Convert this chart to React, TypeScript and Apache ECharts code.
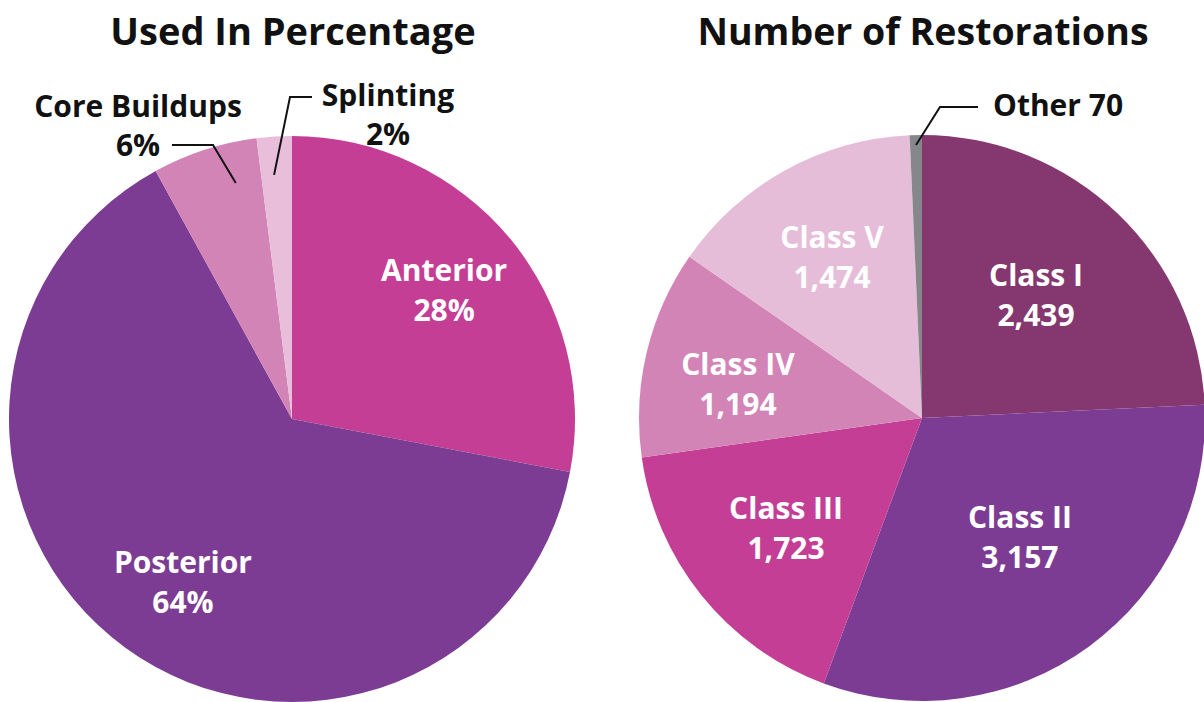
import React, { useEffect, useRef } from "react";
import * as echarts from "echarts";

const LEFT_TITLE = "Used In Percentage";
const RIGHT_TITLE = "Number of Restorations";
const LEFT_NAMES = ["Anterior", "Posterior", "Core Buildups", "Splinting"];
const LEFT_VALUES = [28, 64, 6, 2];
const RIGHT_NAMES = ["Class I", "Class II", "Class III", "Class IV", "Class V", "Other"];
const RIGHT_VALUES = [2439, 3157, 1723, 1194, 1474, 70];

const LEFT_COLORS = ["#C43E96", "#7D3C94", "#D384B7", "#E8BEDA"];
const RIGHT_COLORS = ["#85376F", "#7D3C94", "#C43E96", "#D384B7", "#E6BDD9", "#86878B"];

const FONT = "'Open Sans', sans-serif";
const W = 1204;
const H = 702;
const LC = [292, 419];
const RC = [922, 418];
const R = 283;

// inside label placement: radius fraction f, angular nudge da (degrees)
const LEFT_INSIDE: Record<number, any> = { 0: { f: 0.707, da: -0.9 }, 1: { f: 0.693, da: -2.2 } };
const RIGHT_INSIDE: Record<number, any> = {
  0: { f: 0.593, da: -0.85 },
  1: { f: 0.543, da: -3.4 },
  2: { f: 0.617, da: 0 },
  3: { f: 0.662, da: -2.6 },
  4: { f: 0.652, da: -0.3 },
};

// outside label layout (styling)
const LEFT_OUTSIDE: Record<number, any> = {
  2: { x: 138, y: 125, align: "center", k: 0.857, da: 4.6, bendX: 213, endX: 172, lineY: 145 },
  3: { x: 388, y: 114, align: "center", k: 0.865, da: -0.6, bendX: 290, endX: 312, lineY: 97 },
};
const RIGHT_OUTSIDE: Record<number, any> = {
  5: { x: 993, y: 104, align: "left", k: 0.965, da: 0, bendX: 940, endX: 978, lineY: 107 },
};

// mid angle (radians, clockwise from 12 o'clock) of each slice, from the data
function midAngles(values: number[]) {
  const total = values.reduce((a, b) => a + b, 0);
  let acc = 0;
  return values.map((v) => {
    const m = ((acc + v / 2) / total) * Math.PI * 2;
    acc += v;
    return m;
  });
}

function polar(center: number[], a: number, r: number) {
  return [center[0] + Math.sin(a) * r, center[1] - Math.cos(a) * r];
}

function makeLayout(
  center: number[],
  values: number[],
  inside: Record<number, any>,
  outside: Record<number, any>
) {
  const mids = midAngles(values);
  const deg = Math.PI / 180;
  return (params: any) => {
    const i = params.dataIndex;
    const ins = inside[i];
    if (ins) {
      const p = polar(center, mids[i] + ins.da * deg, ins.f * R);
      return { x: p[0], y: p[1], align: "center", verticalAlign: "middle" };
    }
    const o = outside[i];
    if (o) {
      const s = polar(center, mids[i] + o.da * deg, o.k * R);
      return {
        x: o.x,
        y: o.y,
        align: o.align,
        verticalAlign: "middle",
        labelLinePoints: [s, [o.bendX, o.lineY], [o.endX, o.lineY]],
      };
    }
    return {};
  };
}

const insideLabel = {
  show: true,
  position: "inside",
  color: "#ffffff",
  fontFamily: FONT,
  fontWeight: "bold",
  fontSize: 30,
  lineHeight: 40,
};
const outsideLabel = {
  show: true,
  position: "outside",
  color: "#111111",
  fontFamily: FONT,
  fontWeight: "bold",
  fontSize: 30,
  lineHeight: 39,
};

export default function App() {
  const ref = useRef<HTMLDivElement>(null);
  useEffect(() => {
    if (!ref.current) return;
    const chart = echarts.init(ref.current, undefined, { renderer: "svg" });

    // visible slices, no labels
    const solid = (names: string[], values: number[], colors: string[]) =>
      names.map((n, i) => ({ name: n, value: values[i], itemStyle: { color: colors[i] } }));
    // transparent overlay carrying the labels, drawn above the slices
    const ghost = (names: string[], values: number[], inside: Record<number, any>) =>
      names.map((n, i) => ({
        name: n,
        value: values[i],
        itemStyle: { color: "rgba(0,0,0,0)" },
        label: inside[i] ? insideLabel : outsideLabel,
        labelLine: { show: !inside[i], lineStyle: { color: "#111", width: 2 } },
      }));

    const base = {
      type: "pie",
      radius: R,
      startAngle: 90,
      clockwise: true,
      avoidLabelOverlap: false,
      silent: true,
    };

    chart.setOption({
      animation: false,
      backgroundColor: "#ffffff",
      title: [
        {
          text: LEFT_TITLE,
          left: LC[0] - 4,
          top: 6,
          textAlign: "center",
          textStyle: { fontFamily: FONT, fontWeight: "bold", fontSize: 38, color: "#111" },
        },
        {
          text: RIGHT_TITLE,
          left: RC[0] - 4,
          top: 6,
          textAlign: "center",
          textStyle: { fontFamily: FONT, fontWeight: "bold", fontSize: 37.5, color: "#111" },
        },
      ],
      series: [
        {
          ...base,
          center: LC,
          z: 2,
          label: { show: false },
          labelLine: { show: false },
          data: solid(LEFT_NAMES, LEFT_VALUES, LEFT_COLORS),
        },
        {
          ...base,
          center: RC,
          z: 2,
          label: { show: false },
          labelLine: { show: false },
          data: solid(RIGHT_NAMES, RIGHT_VALUES, RIGHT_COLORS),
        },
        {
          ...base,
          center: LC,
          z: 5,
          label: { formatter: (p: any) => `${p.name}\n${p.value}%` },
          labelLayout: makeLayout(LC, LEFT_VALUES, LEFT_INSIDE, LEFT_OUTSIDE),
          data: ghost(LEFT_NAMES, LEFT_VALUES, LEFT_INSIDE),
        },
        {
          ...base,
          center: RC,
          z: 5,
          label: {
            formatter: (p: any) =>
              RIGHT_INSIDE[p.dataIndex]
                ? `${p.name}\n${Number(p.value).toLocaleString("en-US")}`
                : `${p.name} ${p.value}`,
          },
          labelLayout: makeLayout(RC, RIGHT_VALUES, RIGHT_INSIDE, RIGHT_OUTSIDE),
          data: ghost(RIGHT_NAMES, RIGHT_VALUES, RIGHT_INSIDE),
        },
      ],
    });
    return () => chart.dispose();
  }, []);
  return (
    <div
      ref={ref}
      style={{ position: "fixed", left: 0, top: 0, width: W, height: H, background: "#fff" }}
    />
  );
}
